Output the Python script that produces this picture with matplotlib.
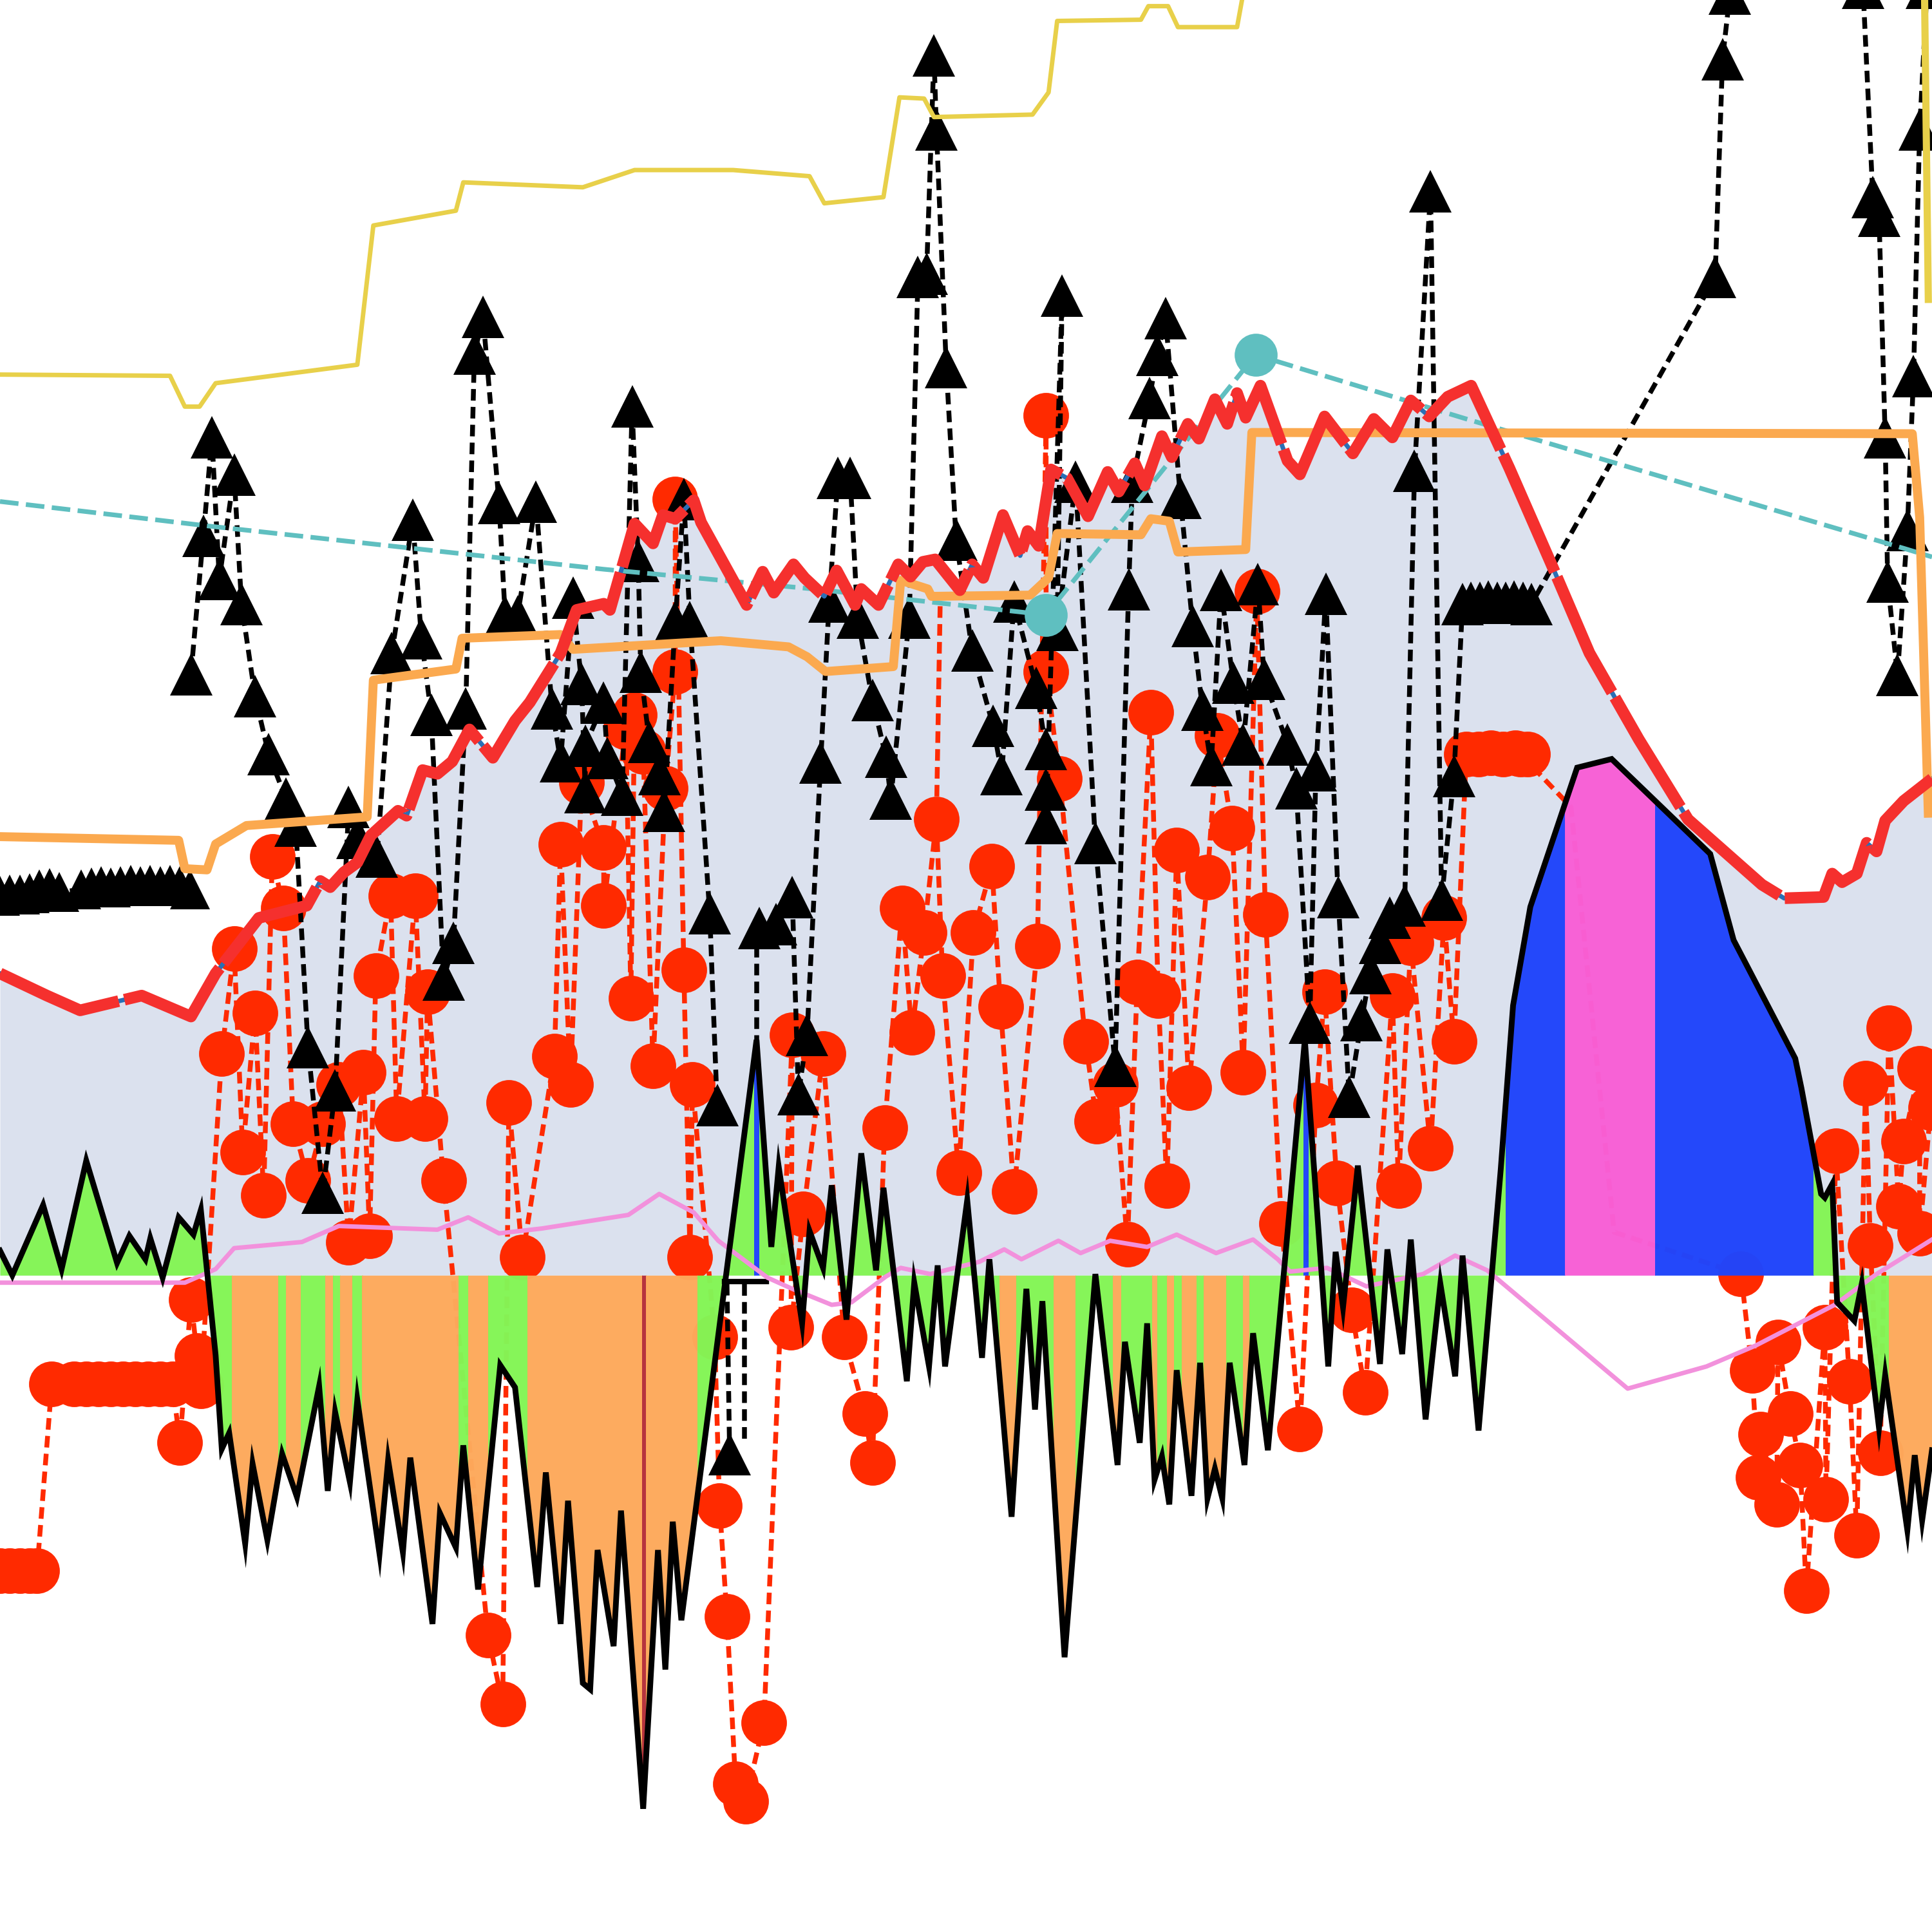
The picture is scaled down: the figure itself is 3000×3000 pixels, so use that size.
import matplotlib
matplotlib.use("Agg")
import matplotlib.pyplot as plt
from matplotlib.patches import Rectangle

BASE = 1035
red_x = [0,38,65,115,155,175,210,249,260,268,279,290,301,323,330,337,343,355,367,381,400,418,430,455,468,490,495,515,530,538,548,563,569,606,619,628,644,653,669,679,694,699,713,729,739,749,759,779,789,798,814,828,834,843,853,866,883,899,908,921,929,943,951,964,973,986,996,1004,1011,1023,1045,1055,1075,1098,1115,1130,1145,1160,1175,1194,1225,1260,1290,1330,1370,1430,1448,1480,1487,1495,1507,1515,1523,1530,1545,1568]
red_y = [790,808,820,808,825,790,745,735,715,720,708,700,678,658,662,642,625,628,618,592,615,585,570,530,495,490,495,425,441,418,421,406,424,491,464,481,458,469,484,463,491,478,491,458,468,456,454,479,458,469,418,451,431,443,381,388,419,383,399,376,394,354,371,344,356,324,344,319,339,313,374,385,338,368,340,355,325,338,322,313,380,460,530,600,665,718,729,728,709,716,709,684,691,666,650,632]
orange_x = [0,145,150,168,175,200,298,303,370,375,455,465,585,640,655,670,725,731,753,756,836,851,858,926,934,949,956,1011,1016,1552,1558,1565]
orange_y = [679,682,705,706,685,670,663,552,543,518,515,527,520,525,533,545,541,471,478,484,483,469,433,434,421,423,448,446,351,352,420,660]
yellow_x = [0,138,150,162,175,290,303,370,376,473,515,595,657,669,717,730,750,758,838,851,858,926,932,948,956,1004,1008]
yellow_y = [304,305,330,330,311,296,183,171,148,152,138,138,143,165,160,79,80,95,93,75,17,16,5,5,22,22,0]
yellow2_x = [1562,1565]
yellow2_y = [0,243]
teal_x = [0,170,490,660,849,1019,1190,1545,1568]
teal_y = [407,427,462,478,499,288,340,445,452]
teal_dot_x = [849,1019]
teal_dot_y = [499,288]
pink_x = [0,150,175,190,245,275,355,380,405,440,510,535,563,583,623,643,675,691,719,731,755,795,815,829,859,877,901,931,955,987,1017,1037,1047,1077,1109,1155,1181,1207,1321,1385,1425,1489,1523,1568]
pink_y = [1041,1041,1030,1013,1008,995,998,988,1001,997,986,969,984,1007,1037,1046,1059,1057,1036,1029,1034,1024,1014,1022,1007,1017,1007,1012,1002,1017,1006,1022,1032,1029,1044,1034,1019,1031,1127,1109,1092,1059,1034,1006]
black_x = [0,10,35,50,70,95,105,118,122,132,145,157,163,175,180,186,199,205,217,229,241,259,266,272,284,290,308,315,327,333,351,357,370,376,388,406,418,436,443,455,461,473,479,485,498,504,522,534,540,546,553,614,626,632,651,657,668,675,687,699,711,717,736,742,754,761,767,785,797,803,821,833,840,846,864,889,907,913,925,931,937,943,949,955,967,974,980,986,992,998,1010,1017,1029,1059,1078,1084,1090,1102,1120,1126,1138,1145,1157,1169,1181,1187,1200,1218,1228,1242,1280,1308,1388,1407,1457,1462,1478,1481,1487,1491,1505,1511,1525,1530,1548,1554,1560,1568]
black_y = [1015,1035,978,1030,942,1025,1003,1022,1005,1037,988,1002,982,1100,1176,1163,1253,1188,1250,1180,1215,1125,1210,1146,1203,1136,1261,1185,1260,1183,1318,1228,1256,1173,1290,1108,1126,1288,1195,1318,1218,1366,1371,1258,1336,1226,1468,1258,1355,1235,1315,844,1012,947,1074,999,1029,962,1071,936,1031,964,1121,1041,1109,1027,1109,974,1102,1022,1231,1046,1144,1056,1345,1034,1189,1089,1171,1074,1201,1182,1221,1112,1214,1106,1216,1192,1216,1106,1189,1082,1177,844,1109,1016,1061,946,1107,1014,1099,1006,1152,1042,1117,1019,1161,949,816,736,623,616,693,763,859,883,969,972,961,1057,1072,1042,1159,1116,1242,1181,1234,1177]
G, O, B, P, R = "#84f556", "#fda95c", "#2045fb", "#f85fd6", "#b5303a"
span_starts = [0,188,226,232,244,264,270,276,286,294,372,380,396,428,521,524,566,612,616,811,825,855,873,903,910,935,939,947,953,959,971,977,995,1009,1014,1058,1062,1222,1270,1343,1472,1533]
span_colors = [G,O,G,O,G,O,G,O,G,O,G,O,G,O,R,O,G,B,G,O,G,O,G,O,G,O,G,O,G,O,G,O,G,O,G,B,G,B,P,B,G,O]
span_end = 1568
tri_a_x = [0,8,16,24,32,40,48,66,74,82,90,98,106,114,122,130,138,146,154]
tri_a_y = [727,726,726,725,722,721,724,722,720,719,720,719,718,719,718,719,718,719,722]
tri_b_x = [155,165,172,178,190,196,207,218,232,240,250,262,272,283,290,306,318,335,342,350,360,368,378,385,392,405,410,420,435,448,455,465,472,475,475,490,493,505,513,518,520,527,535,539,548,555,560,576,582]
tri_b_y = [547,435,355,470,385,490,565,612,648,670,850,968,885,655,680,695,530,422,518,580,795,765,575,287,257,408,500,500,407,575,618,485,555,643,605,570,615,645,330,455,545,602,628,658,505,405,505,741,897]
tri_c_x = [616,630,643,648,655,666,673,680,690,696,708,719,723,738,745,752,758,760,768,776,789,806,813,823,841,849,849,849,862,858,873,889,905,916,919,933,939,946,958,968,976,983,991,1001,1009,1021,1026,1045,1052,1063,1068,1076,1086,1095,1105,1112,1120,1128,1140,1148,1161,1170,1180,1187,1194,1201,1208,1215,1222,1229,1236,1243,1392,1398,1404]
tri_c_y = [753,750,728,888,840,619,488,388,388,501,568,614,648,501,225,222,45,105,298,438,528,589,628,488,558,608,641,668,240,511,391,684,865,478,391,323,288,258,404,508,576,621,479,554,604,474,551,604,640,830,625,482,728,890,828,790,765,745,735,382,155,730,630,490,489,489,488,489,489,488,489,490,225,48,-5]
tri_d_x = [1512,1520,1525,1530,1532,1540,1548,1553,1558,1564]
tri_d_y = [-10,160,175,355,472,548,430,305,105,-10]
tri_e_x = [592]
tri_e_y = [1180]
link1_x = [590,592]
link1_y = [1042,1170]
link2_x = [604,604]
link2_y = [1042,1170]
link3_x = [614,614]
link3_y = [753,850]
smear_x = [588,622]
smear_y = [1040,1040]
circ_x = [0,8,16,24,30,42,60,70,80,90,100,110,120,130,140,146,155,160,163,180,190,197,207,214,221,230,238,250,262,275,283,295,300,305,317,322,337,345,347,360,396,408,413,424,450,455,463,472,490,490,508,512,515,522,530,540,548,548,555,560,562,580,584,590,597,605,620,643,642,652,668,685,702,708,718,732,740,750,760,765,778,790,805,812,823,842,849,849,860,881,890,905,915,923,934,940,947,955,965,980,988,1000,1009,1020,1027,1040,1055,1068,1075,1085,1097,1108,1130,1135,1145,1161,1172,1180,1190,1200,1210,1220,1230,1240,1234]
circ_y = [1275,1275,1275,1275,1275,1123,1123,1123,1123,1123,1123,1123,1123,1123,1123,1171,1055,1100,1125,855,770,935,822,970,695,737,912,958,912,880,1008,870,1003,792,727,908,727,908,805,958,1327,1383,895,1020,857,685,880,635,688,735,590,810,580,610,865,640,545,405,787,1020,880,1085,1222,1312,1448,1462,1398,840,1077,985,855,1085,1147,1187,915,737,838,757,665,792,952,757,703,817,967,768,337,545,632,845,910,880,1010,797,578,808,962,690,883,712,597,672,870,480,742,993,1160,897,805,960,1063,1130,808,962,765,932,745,845,612,612,611,612,611,612,612]
circ2_x = [1413,1422,1427,1429,1442,1443,1453,1461,1466,1481,1482,1490,1501,1507,1514,1518,1526,1533,1541,1545,1558,1558,1567]
circ2_y = [1034,1112,1199,1164,1221,1089,1147,1189,1291,1077,1217,934,1121,1246,879,1011,1179,834,979,926,867,1001,899]
red_link_x = [1234,1275,1310,1413]
red_link_y = [612,655,1000,1034]
red_link2_x = [763,760]
red_link2_y = [492,665]

fig = plt.figure(figsize=(15,15), dpi=200, facecolor="white")
ax = fig.add_axes([0,0,1,1])
ax.set_xlim(0,1568); ax.set_ylim(1568,0); ax.axis("off")

ax.fill_between(red_x, red_y, BASE, color="#dbe1ee", lw=0, zorder=1)

dash = (0,(2.4,1.3))
RED = "#ff2a00"
LW = 2.7
ax.plot(circ_x, circ_y, color=RED, lw=LW, ls=dash, marker="o", ms=25.5, mew=0, zorder=2)
ax.plot(circ2_x, circ2_y, color=RED, lw=LW, ls=dash, marker="o", ms=25.5, mew=0, zorder=2)
ax.plot(red_link_x, red_link_y, color=RED, lw=LW, ls=dash, zorder=2)
ax.plot(red_link2_x, red_link2_y, color=RED, lw=LW, ls=dash, zorder=2)

edges = span_starts + [span_end]
for x0,x1,c in zip(edges[:-1], edges[1:], span_colors):
    poly = ax.fill_between(black_x, black_y, BASE, color=c, lw=0, alpha=0.98, zorder=3)
    poly.set_clip_path(Rectangle((x0,-10),x1-x0,1600, transform=ax.transData))

ax.plot(tri_a_x, tri_a_y, color="k", lw=LW, ls=dash, marker="^", ms=22, mew=0, zorder=5)
for tx,ty in ((tri_b_x,tri_b_y),(tri_c_x,tri_c_y),(tri_d_x,tri_d_y),(tri_e_x,tri_e_y)):
    ax.plot(tx, ty, color="k", lw=LW, ls=dash, marker="^", ms=24, mew=0, zorder=5)
for lx,ly in ((link1_x,link1_y),(link2_x,link2_y),(link3_x,link3_y)):
    ax.plot(lx, ly, color="k", lw=LW, ls=dash, zorder=5)
ax.plot(smear_x, smear_y, color="k", lw=3, zorder=5)

ax.plot(pink_x, pink_y, color="#f291dc", lw=2.5, zorder=6)
ax.plot(black_x, black_y, color="k", lw=3.2, zorder=7, solid_joinstyle="miter")
ax.plot(yellow_x, yellow_y, color="#e8d04a", lw=2.5, zorder=6)
ax.plot(yellow2_x, yellow2_y, color="#e8d04a", lw=4, zorder=6)
ax.plot(teal_x, teal_y, color="#5fbfc0", lw=2.6, ls=(0,(4,1.6)), zorder=6)
ax.plot(teal_dot_x, teal_dot_y, ls="none", marker="o", ms=24, mew=0, color="#5fbfc0", zorder=10)
ax.plot(red_x, red_y, color="#2a6fb5", lw=2.5, zorder=8)
ax.plot(orange_x, orange_y, color="#fba94f", lw=5, zorder=8.5, solid_joinstyle="round")
ax.plot(red_x, red_y, color="#f5302e", lw=6.5, ls=(0,(11,0.5)), zorder=9)

fig.savefig("out.png", dpi=200)
